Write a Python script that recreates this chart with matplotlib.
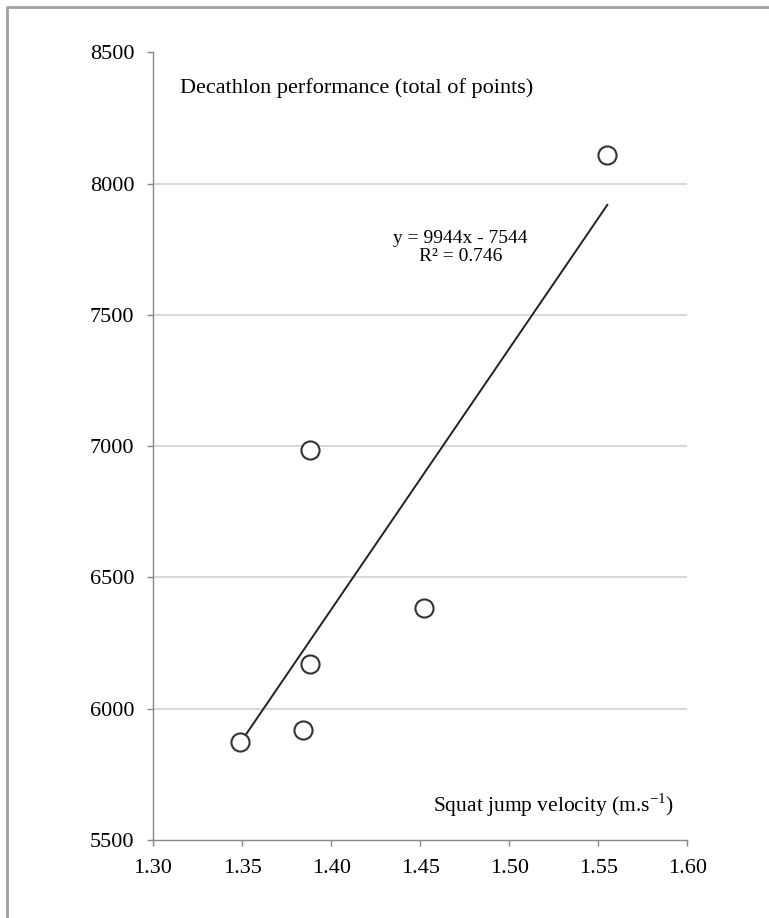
import numpy as np
import matplotlib.pyplot as plt
from matplotlib.lines import Line2D

# squat jump velocity (m/s) vs decathlon points
velocity = [1.349, 1.384, 1.388, 1.388, 1.452, 1.555]
points = [5875, 5920, 6170, 6985, 6385, 8110]
slope, intercept = 9944, -7544
fit_range = [1.35, 1.555]

xticks = [1.30, 1.35, 1.40, 1.45, 1.50, 1.55, 1.60]
yticks = [5500, 6000, 6500, 7000, 7500, 8000, 8500]

plt.rcParams['font.family'] = ['Liberation Serif', 'DejaVu Serif']

fig = plt.figure(figsize=(7.69, 9.18), dpi=100)
# frame only on top and left, like a cropped page
fig.add_artist(Line2D([0.009, 0.009, 1.0], [0.0, 0.992, 0.992], transform=fig.transFigure,
                      color='#a0a0a0', linewidth=2))
ax = fig.add_axes([0.199, 0.085, 0.695, 0.858])

for y in yticks[1:-1]:
    ax.axhline(y, color='#d9d9d9', linewidth=1.5, zorder=0)

fx = np.array(fit_range)
ax.plot(fx, slope * fx + intercept, color='#222222', linewidth=1.4, zorder=2)
ax.scatter(velocity, points, s=170, facecolors='white', edgecolors='#333333',
           linewidths=1.5, zorder=3)

ax.set_xlim(1.30, 1.60)
ax.set_ylim(5500, 8500)
ax.set_xticks(xticks)
ax.set_xticklabels([f"{t:.2f}" for t in xticks])
ax.set_yticks(yticks)
ax.tick_params(labelsize=16, color='#888888', length=4.5, width=1)
ax.tick_params(axis='y', pad=9)
ax.tick_params(axis='x', pad=9)

for side in ['top', 'right']:
    ax.spines[side].set_visible(False)
for side in ['left', 'bottom']:
    ax.spines[side].set_color('#888888')
    ax.spines[side].set_linewidth(1)

ax.text(0.05, 0.955, "Decathlon performance (total of points)", transform=ax.transAxes,
        fontsize=16, va='center', ha='left')
ax.text(0.975, 0.044, "Squat jump velocity (m.s$^{\\mathregular{-1}}$)", transform=ax.transAxes,
        fontsize=15.5, va='center', ha='right')
ax.text(1.4727, 7756, "y = 9944x - 7544\nR\u00b2 = 0.746", fontsize=14,
        ha='center', va='center', linespacing=1.05)

fig.savefig("out.png", dpi=100)
